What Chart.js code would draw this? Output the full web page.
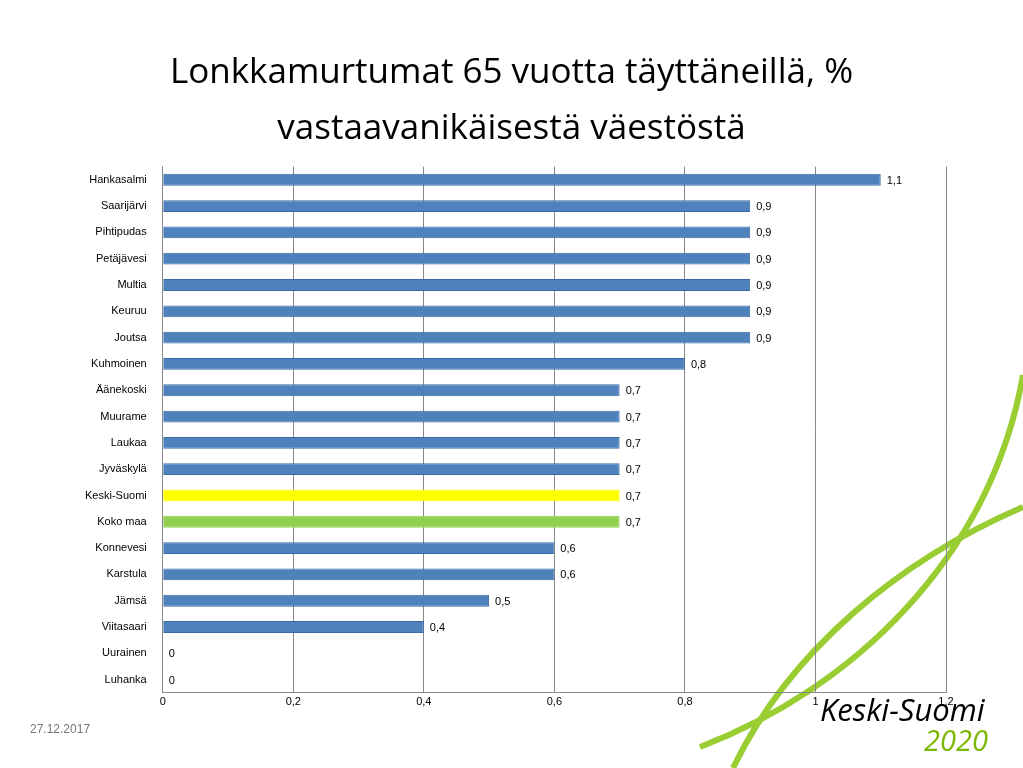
<!DOCTYPE html>
<html><head><meta charset="utf-8">
<script src="https://cdn.jsdelivr.net/npm/chart.js@4"></script>
<style>
body{margin:0;width:1023px;height:768px;background:#fff;position:relative;overflow:hidden;font-family:"Open Sans",sans-serif}
#title{position:absolute;top:42px;left:0;width:1023px;text-align:center;font-size:35px;line-height:56px;color:#000}
#wrap{position:absolute;left:0;top:152px;width:1023px;height:565px}
#deco{position:absolute;left:0;top:0}
#date{position:absolute;left:30px;top:722px;font-size:12px;color:#777;font-family:"Liberation Sans"}
#logo1{position:absolute;left:820px;top:688px;font-size:31px;font-style:italic;color:#000;font-family:"Open Sans"}
#logo2{position:absolute;left:924px;top:720px;font-size:29px;font-style:italic;color:#7ab800;font-family:"Open Sans"}
</style></head><body>
<canvas id="deco" width="1023" height="768"></canvas>
<div id="title">Lonkkamurtumat 65 vuotta täyttäneillä, %<br>vastaavanikäisestä väestöstä</div>
<div id="wrap"><canvas id="c"></canvas></div>
<div id="date">27.12.2017</div>
<div id="logo1">Keski-Suomi</div>
<div id="logo2">2020</div>
<script>
const categories=["Hankasalmi","Saarijärvi","Pihtipudas","Petäjävesi","Multia","Keuruu","Joutsa","Kuhmoinen","Äänekoski","Muurame","Laukaa","Jyväskylä","Keski-Suomi","Koko maa","Konnevesi","Karstula","Jämsä","Viitasaari","Uurainen","Luhanka"];
const values=[1.1,0.9,0.9,0.9,0.9,0.9,0.9,0.8,0.7,0.7,0.7,0.7,0.7,0.7,0.6,0.6,0.5,0.4,0,0];
const colors=categories.map(c=>c==="Keski-Suomi"?"#ffff00":c==="Koko maa"?"#92d050":"#4f81bd");
const tickLabels=["0","0,2","0,4","0,6","0,8","1","1,2"];

const d=document.getElementById('deco').getContext('2d');
d.strokeStyle='#9acd32';d.lineWidth=6;
d.beginPath();d.moveTo(700,747);d.bezierCurveTo(850,690,990,560,1023,375);d.stroke();
d.beginPath();d.moveTo(733,768);d.bezierCurveTo(790,650,900,560,1023,507);d.stroke();

const labelPlugin={id:'lbl',afterDatasetsDraw(ch){
 const ctx=ch.ctx;const m=ch.getDatasetMeta(0);
 ctx.save();ctx.font='11px "Liberation Sans"';ctx.fillStyle='#000';ctx.textBaseline='middle';
 m.data.forEach((b,i)=>{ctx.fillText(String(values[i]).replace('.',','),b.x+6,b.y+1);});
 ctx.restore();}};
new Chart(document.getElementById('c'),{type:'bar',
 data:{labels:categories,datasets:[{data:values,backgroundColor:colors,borderColor:colors.map(c=>c==="#4f81bd"?"#3a6aa5":c),borderWidth:1,barPercentage:0.45,categoryPercentage:1}]},
 options:{indexAxis:'y',responsive:true,maintainAspectRatio:false,animation:false,
  layout:{padding:{left:77,right:77,top:13,bottom:5}},
  plugins:{legend:{display:false},tooltip:{enabled:false}},
  scales:{x:{min:0,max:1.2,ticks:{stepSize:0.2,font:{size:11,family:'Liberation Sans'},color:'#000',callback:(v,i)=>tickLabels[i]},grid:{color:'#888',drawTicks:false},border:{color:'#888'}},
   y:{ticks:{font:{size:11,family:'Liberation Sans'},color:'#000',padding:8},grid:{display:false},border:{color:'#888'}}}}
 ,plugins:[labelPlugin]});
</script></body></html>
